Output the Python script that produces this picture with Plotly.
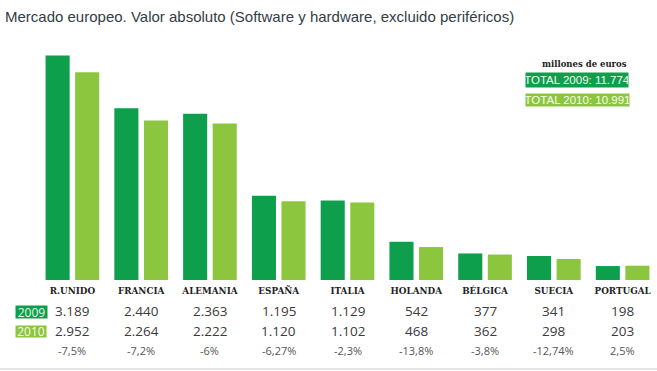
import plotly.graph_objects as go

paises = ["R.UNIDO", "FRANCIA", "ALEMANIA", "ESPAÑA", "ITALIA", "HOLANDA", "BÉLGICA", "SUECIA", "PORTUGAL"]
valores_2009 = [3189, 2440, 2363, 1195, 1129, 542, 377, 341, 198]
valores_2010 = [2952, 2264, 2222, 1120, 1102, 468, 362, 298, 203]
variacion = ["-7,5%", "-7,2%", "-6%", "-6,27%", "-2,3%", "-13,8%", "-3,8%", "-12,74%", "2,5%"]
total_2009 = "11.774"
total_2010 = "10.991"

VERDE_OSCURO = "#0e9f4c"
VERDE_CLARO = "#8cc63f"

def fmt(v):
    return f"{v:,}".replace(",", ".")

fig = go.Figure()
fig.add_trace(go.Bar(x=paises, y=valores_2009, name="2009", marker_color=VERDE_OSCURO, marker_line_width=0))
fig.add_trace(go.Bar(x=paises, y=valores_2010, name="2010", marker_color=VERDE_CLARO, marker_line_width=0))

annotations = []
for p, a, b, v in zip(paises, valores_2009, valores_2010, variacion):
    annotations.append(dict(x=p, xref="x", y=0, yref="paper", yshift=-31, yanchor="middle",
                            text=fmt(a), showarrow=False,
                            font=dict(family="Open Sans", size=13.5, color="#3a3a3a")))
    annotations.append(dict(x=p, xref="x", y=0, yref="paper", yshift=-51, yanchor="middle",
                            text=fmt(b), showarrow=False,
                            font=dict(family="Open Sans", size=13.5, color="#3a3a3a")))
    annotations.append(dict(x=p, xref="x", y=0, yref="paper", yshift=-70, yanchor="middle",
                            text=v, showarrow=False,
                            font=dict(family="Open Sans", size=11, color="#555555")))

# row keys
annotations.append(dict(x=0, xref="paper", xanchor="center", xshift=-6.5, y=0, yref="paper", yshift=-32,
                        yanchor="middle", text="2009", showarrow=False, bgcolor=VERDE_OSCURO,
                        width=31, height=12, borderpad=0,
                        font=dict(family="Open Sans", size=12, color="#e8f6e8")))
annotations.append(dict(x=0, xref="paper", xanchor="center", xshift=-7, y=0, yref="paper", yshift=-51.5,
                        yanchor="middle", text="2010", showarrow=False, bgcolor=VERDE_CLARO,
                        width=30, height=11, borderpad=0,
                        font=dict(family="Open Sans", size=12, color="#f4faec")))

# top-right legend boxes
annotations.append(dict(x=0.9548, xref="paper", xanchor="right", y=0.9, yref="paper", yanchor="middle",
                        text="<b>millones de euros</b>", showarrow=False,
                        font=dict(family="DejaVu Serif", size=8.5, color="#222222")))
annotations.append(dict(x=0.9548, xref="paper", xanchor="right", y=0.8333, yref="paper", yanchor="middle",
                        text="TOTAL 2009: " + total_2009, showarrow=False, bgcolor=VERDE_OSCURO,
                        width=102, height=14, borderpad=0,
                        font=dict(family="Liberation Sans", size=11.5, color="#f2fbf2")))
annotations.append(dict(x=0.9564, xref="paper", xanchor="right", y=0.748, yref="paper", yanchor="middle",
                        text="TOTAL 2010: " + total_2010, showarrow=False, bgcolor=VERDE_CLARO,
                        width=103, height=12, borderpad=0,
                        font=dict(family="Liberation Sans", size=11.5, color="#f7fcef")))

fig.update_layout(
    width=657, height=371,
    margin=dict(l=38, r=0, t=40, b=91),
    paper_bgcolor="white", plot_bgcolor="white",
    barmode="group", bargap=0.14, bargroupgap=0.186,
    showlegend=False,
    title=dict(text="Mercado europeo. Valor absoluto (Software y hardware, excluido periféricos)",
               x=5/657, xanchor="left", xref="container",
               y=1 - 17/371, yanchor="middle", yref="container",
               font=dict(family="Liberation Sans", size=15, color="#333d48")),
    xaxis=dict(showgrid=False, showline=False, zeroline=False, ticks="",
               tickfont=dict(family="DejaVu Serif", size=8.8, color="#222222", weight="bold"),
               ticklabelstandoff=4, automargin=False),
    yaxis=dict(range=[0, 3409], visible=False, showgrid=False, automargin=False),
    annotations=annotations,
    shapes=[dict(type="line", xref="paper", yref="paper", x0=-38/619, x1=1, y0=-89/240, y1=-89/240,
                 line=dict(color="#e4e4e4", width=2))],
)

fig.write_html("out.html", config={"displayModeBar": False},
               post_script="document.body.style.margin='0';document.body.style.overflow='hidden';")
